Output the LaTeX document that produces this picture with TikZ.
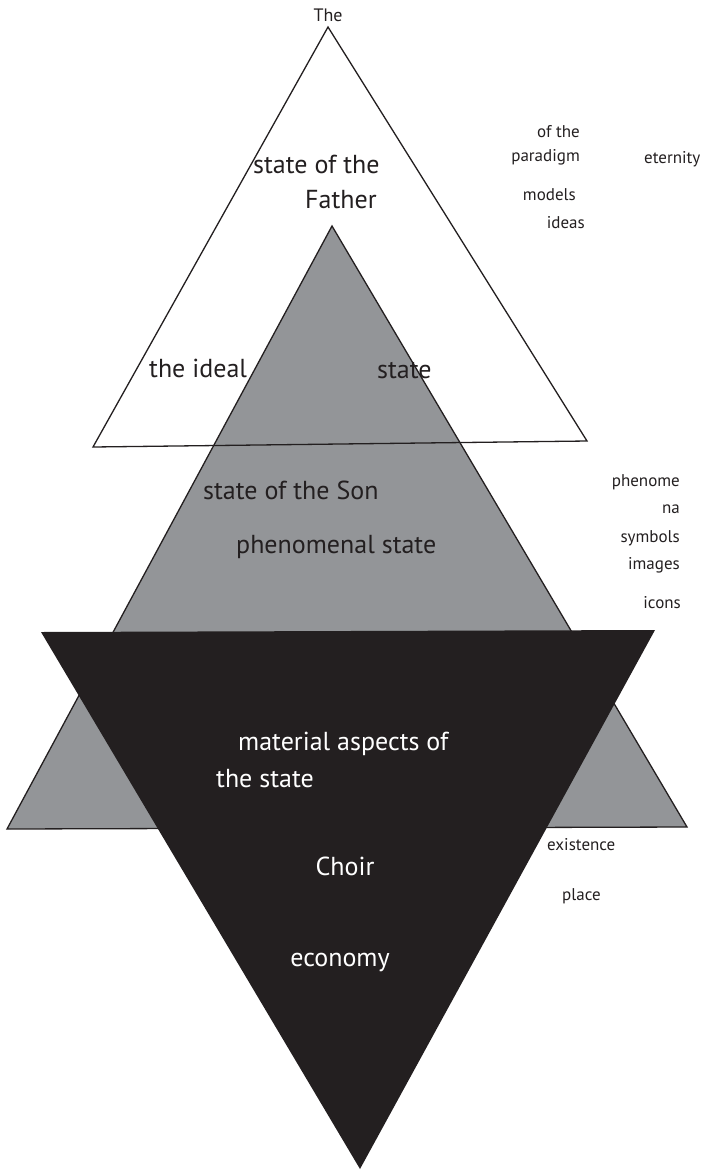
\documentclass[tikz,border=0pt]{standalone}
\usepackage{fontspec}
\setmainfont{PT Sans}
\definecolor{ink}{HTML}{231F20}
\definecolor{midgray}{HTML}{939598}
\begin{document}
\begin{tikzpicture}[x=1pt,y=-1pt,
  outline/.style={draw=ink, line width=1.3pt, line join=miter},
  biglabel/.style={text=ink, inner sep=0pt, font=\fontsize{26}{30}\selectfont},
  wlabel/.style={text=white, inner sep=0pt, font=\fontsize{26}{30}\selectfont},
  sidelabel/.style={text=ink, inner sep=0pt, font=\fontsize{17}{20}\selectfont}]
\useasboundingbox (0,0) rectangle (707,1171);

% corner points of the three triangles
\coordinate (fTop) at (328,27);
\coordinate (fLeft) at (93,447);
\coordinate (fRight) at (587,441);
\coordinate (sTop) at (332,226);
\coordinate (sLeft) at (7,829);
\coordinate (sRight) at (687,827);
\coordinate (mLeft) at (41,632);
\coordinate (mRight) at (655,630);
\coordinate (mBottom) at (360,1169);

% upper (Father) triangle: fill first, outline later
\fill[white] (fTop) -- (fLeft) -- (fRight) -- cycle;
% middle (Son) triangle
\filldraw[fill=midgray, outline] (sTop) -- (sLeft) -- (sRight) -- cycle;
% outline of the upper triangle over the grey one
\draw[outline] (fTop) -- (fLeft) -- (fRight) -- cycle;
% inverted (material) triangle
\fill[ink] (mLeft) -- (mRight) -- (mBottom) -- cycle;

% labels
\node[text=ink, inner sep=0pt, font=\fontsize{18}{20}\selectfont, anchor=base] (the) at (328,21) {The};
\node[biglabel, anchor=base west] (fa1) at (253,173) {state of the};
\node[biglabel, anchor=base west] (fa2) at (305,208) {Father};
\node[biglabel, anchor=base west] (id1) at (149,377) {the ideal};
\node[biglabel, anchor=base west] (id2) at (377,378) {state};
\node[biglabel, anchor=base west] (so1) at (203,499) {state of the Son};
\node[biglabel, anchor=base west] (so2) at (236,553) {phenomenal state};
\node[wlabel, anchor=base west] (ma1) at (238,750) {material aspects of};
\node[wlabel, anchor=base west] (ma2) at (216,787) {the state};
\node[wlabel, anchor=base] (ch) at (345,875) {Choir};
\node[wlabel, anchor=base] (ec) at (340,966) {economy};

\node[sidelabel, anchor=base east] (s1) at (580,137) {of the};
\node[sidelabel, anchor=base east] (s2) at (580,161) {paradigm};
\node[sidelabel, anchor=base west] (s3) at (644,163) {eternity};
\node[sidelabel, anchor=base east] (s4) at (576,200) {models};
\node[sidelabel, anchor=base east] (s5) at (585,228) {ideas};
\node[sidelabel, anchor=base east] (s6) at (680,486) {phenome};
\node[sidelabel, anchor=base east] (s7) at (680,513) {na};
\node[sidelabel, anchor=base east] (s8) at (680,542) {symbols};
\node[sidelabel, anchor=base east] (s9) at (680,569) {images};
\node[sidelabel, anchor=base east] (s10) at (681,608) {icons};
\node[sidelabel, anchor=base west] (s11) at (547,850) {existence};
\node[sidelabel, anchor=base west] (s12) at (562,900) {place};
\end{tikzpicture}
\end{document}
